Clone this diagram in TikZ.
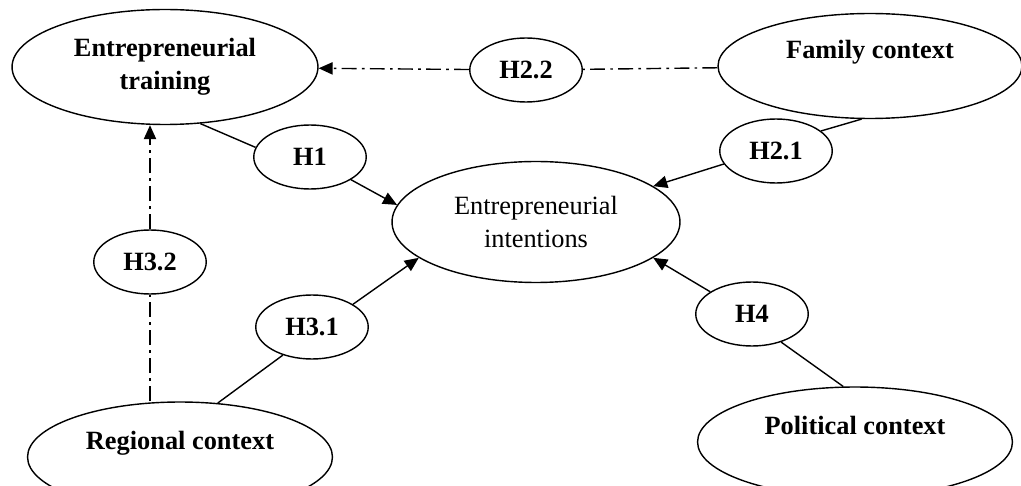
\documentclass[tikz,border=0pt]{standalone}
\usepackage{fontspec}
\setmainfont{Liberation Serif}
\usetikzlibrary{shapes.geometric,arrows.meta}
\begin{document}
\begin{tikzpicture}[x=0.02cm,y=-0.02cm]
	\tikzset{big/.style={draw, ellipse, line width=0.8pt, inner sep=0pt, align=center, font=\fontsize{15}{19}\selectfont\bfseries},
		hyp/.style={draw, ellipse, line width=0.8pt, inner sep=0pt, minimum width=2.25cm, minimum height=1.28cm, font=\fontsize{15}{19}\selectfont\bfseries},
		lnk/.style={line width=0.8pt},
		arr/.style={lnk, -{Triangle[length=8pt,width=7pt]}},
		dd/.style={lnk, dash pattern=on 8.5pt off 3pt on 1.5pt off 3pt}}
	\useasboundingbox (0,0) rectangle (1021,486);
	\clip (0,0) rectangle (1021,486);
	% constructs
	\node[big, minimum width=6.12cm, minimum height=2.3cm] (et) at (165,67) {Entrepreneurial\\training};
	\node[big, minimum width=6.08cm, minimum height=2.1cm] (fc) at (870,66) {Family context\\\mbox{}};
	\node[big, minimum width=5.76cm, minimum height=2.42cm, font=\fontsize{15}{19}\selectfont] (ei) at (536,222) {Entrepreneurial\\intentions};
	\node[big, minimum width=6.1cm, minimum height=2.2cm] (rc) at (180,457) {Regional context\\\mbox{}};
	\node[big, minimum width=6.3cm, minimum height=2.2cm] (pc) at (855,442) {Political context\\\mbox{}};
	% hypotheses
	\node[hyp] (h1)  at (310,157) {H1};
	\node[hyp] (h22) at (526,70)  {H2.2};
	\node[hyp] (h21) at (776,151) {H2.1};
	\node[hyp] (h32) at (150,262) {H3.2};
	\node[hyp] (h31) at (312,327) {H3.1};
	\node[hyp] (h4)  at (752,314) {H4};
	% paths
	\draw[lnk] (et.-58) -- (h1.170);
	\draw[arr] (h1.-29) -- (ei.173);
	\draw[lnk] (fc.-99) -- (h21.24);
	\draw[arr] (h21.194) -- (ei.17);
	\draw[dd] (fc) -- (h22);
	\draw[dd,-{Triangle[length=8pt,width=7pt]}] (h22) -- (et);
	\draw[dd] (h32.south |- rc.north) -- (h32.south);
	\draw[dd,-{Triangle[length=8pt,width=7pt]}] (h32.north) -- (h32.north |- et.south);
	\draw[lnk] (rc.55) -- (h31.-136);
	\draw[arr] (h31.29) -- (ei.197);
	\draw[lnk] (pc.102) -- (h4.-44);
	\draw[arr] (h4.152) -- (ei.-17);
\end{tikzpicture}
\end{document}
